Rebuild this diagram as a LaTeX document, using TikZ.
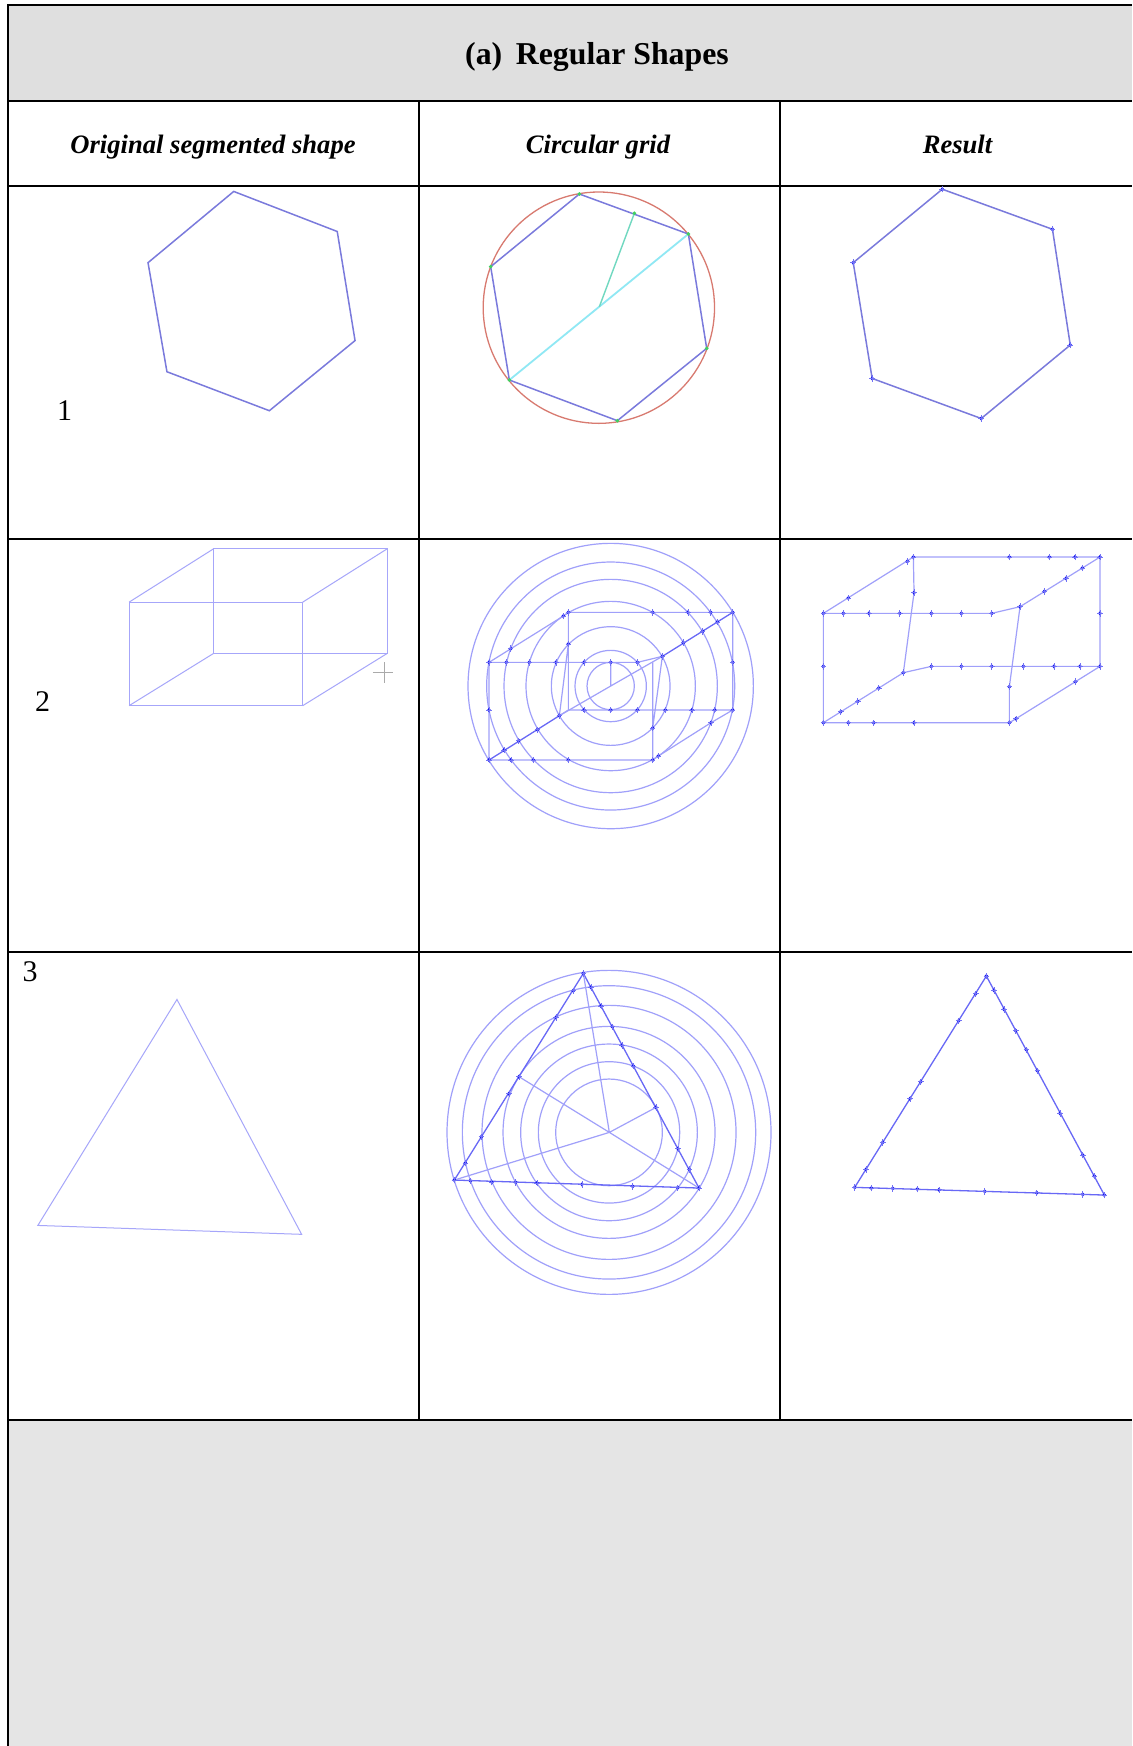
\documentclass[tikz,border=0pt]{standalone}
\usepackage{fontspec}
\setmainfont{Liberation Serif}
\definecolor{headgray}{HTML}{DFDFDF}
\definecolor{footgray}{HTML}{E5E5E5}
\definecolor{shapeblue}{HTML}{7A7ADC}
\definecolor{thinblue}{HTML}{A6A6FA}
\definecolor{gridblue}{HTML}{A0A0FA}
\definecolor{boldblue}{HTML}{6868F6}
\definecolor{markblue}{HTML}{1414F0}
\definecolor{ringred}{HTML}{D87A70}
\definecolor{spokecyan}{HTML}{90E8F4}
\definecolor{spoketeal}{HTML}{70D8C0}
\definecolor{dotgreen}{HTML}{40D060}
\definecolor{crossgray}{HTML}{AAAAAA}
\tikzset{
  rule/.style={line width=1pt,black},
  thinline/.style={thinblue,line width=0.5pt},
  gridline/.style={gridblue,line width=0.6pt},
  boldline/.style={boldblue,line width=0.65pt},
  hexline/.style={shapeblue,line width=0.75pt},
  zoomed/.style={x=0.16667pt,y=-0.16667pt},
  mk/.pic={\fill[markblue] (-0.95pt,0)--(0,-1.1pt)--(0.95pt,0)--(0,1.1pt)--cycle;
    \draw[markblue!60!white,line width=0.4pt] (-1.4pt,0)--(1.4pt,0) (0,-1.6pt)--(0,1.6pt);},
  gdot/.pic={\fill[dotgreen] (-1pt,0)--(0,-1pt)--(1pt,0)--(0,1pt)--cycle;},
  headtext/.style={font=\fontsize{13.3pt}{16pt}\selectfont\bfseries\itshape,inner sep=0pt,anchor=base},
  rowtext/.style={font=\fontsize{15pt}{18pt}\selectfont,inner sep=0pt,anchor=base}
}
\begin{document}
\begin{tikzpicture}[x=0.5pt,y=-0.5pt]
\useasboundingbox (0,0) rectangle (1132,1746);
\fill[white] (0,0) rectangle (1132,1746);
\fill[headgray] (8,5) rectangle (1132,101);
\fill[footgray] (8,1419) rectangle (1132,1746);
% table rules
\draw[rule] (8,5) -- (1132,5);
\draw[rule] (8,4) -- (8,1746);
\draw[rule] (8,101) -- (1132,101);
\draw[rule] (8,186) -- (1132,186);
\draw[rule] (8,539) -- (1132,539);
\draw[rule] (8,952) -- (1132,952);
\draw[rule] (8,1419.5) -- (1132,1419.5);
\draw[rule] (419.3,101) -- (419.3,1419.5);
\draw[rule] (779.5,101) -- (779.5,1419.5);
% texts
\node[inner sep=0pt,anchor=base,font=\fontsize{15.9pt}{18pt}\selectfont\bfseries] (title) at (597,64) {(a)\hspace{0.18em} Regular Shapes};
\node[headtext] (h1) at (213,153.7) {Original segmented shape};
\node[headtext] (h2) at (598,153.7) {Circular grid};
\node[headtext] (h3) at (957.5,153.7) {Result};
\node[rowtext] (r1) at (64.5,420) {1};
\node[rowtext] (r2) at (42.5,711) {2};
\node[rowtext] (r3) at (30,981) {3};
% original shapes (coordinates of the shrunk view)
\begin{scope}[x=0.5565pt,y=-0.5565pt]
\draw[hexline] (210,172)--(303,208)--(319,306)--(242,369)--(150,334)--(133,236)--cycle;
\draw[thinline] (116,541) rectangle (272,634);
\draw[thinline] (192,493) rectangle (348,587);
\draw[thinline] (116,541)--(192,493) (272,541)--(348,493) (116,634)--(192,587) (272,634)--(348,587);
\draw[crossgray,line width=0.4pt] (335,604)--(353,604) (345,595)--(345,614);
\draw[thinline] (159,898)--(271,1109)--(34,1101)--cycle;
\end{scope}
% row 1 grid
\begin{scope}[zoomed,shift={(1260,540)}]
\draw[ringred,line width=0.65pt] (536.5,383) circle (347);
\draw[hexline] (478,42)--(805,162)--(860,505)--(592,722)--(268,600)--(212,260)--cycle;
\draw[spokecyan,line width=0.9pt] (268,600)--(805,162);
\draw[spoketeal,line width=0.7pt] (538,380)--(643,100);
\foreach \p in {(478,42),(643,100),(805,162),(860,505),(592,722),(268,600),(212,260)} \pic at \p {gdot};
\end{scope}
% row 1 result
\begin{scope}[x=0.5565pt,y=-0.5565pt]
\draw[hexline] (846.6,170)--(945.6,206)--(961.6,310)--(881.6,376)--(783.6,340)--(766.6,236)--cycle;
\foreach \p in {(846.6,170),(945.6,206),(961.6,310),(881.6,376),(783.6,340),(766.6,236)} \pic at \p {mk};
\end{scope}
% row 2 grid
\begin{scope}[zoomed,shift={(1260,1590)}]
\foreach \r in {428,372,320,254,178,107,71} \draw[gridline] (572,468) circle (\r);
\draw[gridline] (207,397)--(430,258)--(445,247)--(938,247)--(938,540)--(873,578)--(715,678)--(698,690)--(207,690)--cycle;
\draw[gridline] (207,397)--(652,397)--(727,379);
\draw[boldline] (727,379)--(938,247);
\draw[boldline] (207,690)--(418,557);
\draw[gridline] (418,557)--(445,540)--(938,540);
\draw[gridline] (445,247)--(445,540) (445,342)--(418,557);
\draw[gridline] (727,379)--(698,594)--(698,690) (698,397)--(698,594);
\draw[gridline] (572,397)--(572,468)--(727,379) (572,468)--(418,557);
\foreach \p in {(430,258),(445,247),(698,247),(804,247),(872,247),(938,247),(272,356),(445,342),
  (207,397),(259,397),(328,397),(408,397),(492,397),(572,397),(652,397),(938,397),(727,379),(790,338),(848,304),(892,276),
  (207,540),(418,557),(492,540),(572,540),(652,540),(736,540),(816,540),(884,540),(938,540),
  (352,599),(296,632),(252,660),(698,594),(873,578),(715,678),(698,690),(445,690),(340,690),(273,690),(207,690)} \pic at \p {mk};
\end{scope}
% row 2 result
\begin{scope}[zoomed,shift={(2370,1590)}]
\draw[gridline] (100,250)--(370,81)--(930,81)--(930,409)--(678,566)--(658,578)--(100,578)--cycle;
\draw[gridline] (100,250)--(605,250)--(690,230)--(930,81);
\draw[gridline] (100,578)--(340,428)--(424,409)--(930,409);
\draw[gridline] (370,81)--(372,188)--(340,428);
\draw[gridline] (690,230)--(658,470)--(658,578);
\foreach \p in {(370,81),(658,81),(778,81),(855,81),(930,81),(352,94),(175,204),(372,188),
  (100,250),(160,250),(237,250),(329,250),(424,250),(514,250),(605,250),(930,250),(690,230),(763,184),(828,145),(877,114),
  (100,409),(340,428),(424,409),(514,409),(605,409),(700,409),(792,409),(870,409),(930,409),
  (266,474),(203,514),(152,545),(658,470),(856,455),(678,566),(100,578),(175,578),(251,578),(372,578),(658,578)} \pic at \p {mk};
\end{scope}
% row 3 grid
\begin{scope}[zoomed,shift={(1290,2850)}]
\foreach \r in {486,440,381,318,265,212,160} \draw[gridline] (537,547) circle (\r);
\draw[boldline] (460,70)--(807,714)--(73,690)--cycle;
\draw[gridline] (538,547)--(460,70) (538,547)--(267,380) (538,547)--(678,472) (538,547)--(73,690) (538,547)--(807,714);
\foreach \p in {(460,70),(807,714),(73,690),(430,122),(378,202),(267,380),(237,431),(154,560),(106,639),
  (483,112),(513,168),(547,230),(576,286),(610,348),(678,472),(744,596),(778,658),
  (121,692),(185,696),(257,697),(321,699),(456,703),(608,709),(743,713)} \pic at \p {mk};
\end{scope}
% row 3 result
\begin{scope}[zoomed,shift={(2490,2880)}]
\draw[boldline] (469,48)--(823,705)--(74,682)--cycle;
\foreach \p in {(469,48),(823,705),(74,682),(437,101),(386,182),(272,365),(240,416),(158,547),(108,628),
  (492,91),(522,148),(557,212),(589,269),(622,332),(690,460),(758,585),(793,648),
  (124,684),(188,685),(262,687),(327,689),(464,694),(620,698),(758,703)} \pic at \p {mk};
\end{scope}
\end{tikzpicture}
\end{document}
